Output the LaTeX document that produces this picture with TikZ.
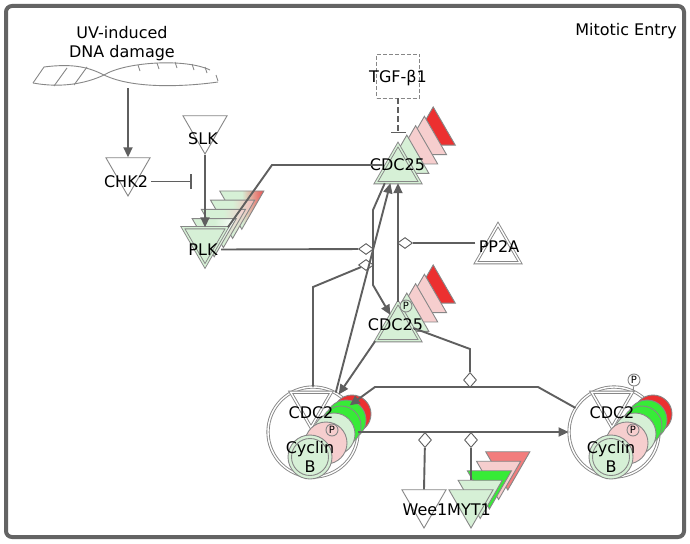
\documentclass[tikz,border=0pt]{standalone}
\usepackage{fontspec}
\setmainfont{DejaVu Sans}
\usetikzlibrary{shapes.geometric,arrows.meta}
\definecolor{linegray}{RGB}{95,95,95}
\definecolor{shapegray}{RGB}{135,135,135}
\definecolor{framegray}{RGB}{100,100,100}
\definecolor{lgreen}{RGB}{214,240,214}
\definecolor{bgreen}{RGB}{55,235,55}
\definecolor{lpink}{RGB}{246,206,206}
\definecolor{ipared}{RGB}{236,48,48}
\definecolor{salmon}{RGB}{242,125,125}

\begin{document}
\begin{tikzpicture}[x=1pt,y=-1pt,font=\fontsize{16}{19}\selectfont,
        link/.style={draw=linegray,line width=1.9pt},
        act/.style={link,-{Triangle[length=10pt,width=9pt]}},
        inhib/.style={link,-{Bar[width=15pt]}},
        upt/.style={regular polygon,regular polygon sides=3,minimum size=51pt,inner sep=0pt,draw=shapegray,line width=0.9pt},
        dnt/.style={upt,shape border rotate=180},
        dbl/.style={double=#1,double distance=1.4pt,fill=#1},
        ball/.style={circle,inner sep=0pt,draw=shapegray,line width=0.9pt},
        modi/.style={diamond,inner sep=0pt,minimum width=13pt,minimum height=15pt,draw=linegray,line width=0.9pt,fill=white},
        flat/.style={modi,minimum width=15pt,minimum height=11pt},
        pmark/.style={ball,fill=white,minimum size=12pt,font=\fontsize{10}{10}\selectfont},
        dnaline/.style={draw=shapegray,line width=0.9pt}]
        %外框
        \useasboundingbox (0,0) rectangle (690,543);
        \fill[white] (0,0) rectangle (690,543);
        \draw[framegray,line width=4pt,rounded corners=6pt] (6,6) rectangle (684,537);
        \node (title) at (626,31) {Mitotic Entry};
        %DNA损伤
        \draw[dnaline] (33,83) -- (44,67) .. controls (75,63) and (90,68) .. (104,75)
                .. controls (135,90) and (190,86) .. (218,82);
        \draw[dnaline] (33,83) .. controls (60,88) and (85,84) .. (104,75)
                .. controls (125,62) and (185,58) .. (210,70);
        \foreach \x/\y in {54/86,74/85}
                \draw[dnaline] (\x,\y) -- ++(13,-18);
        \foreach \x/\y in {138/65,157/63,175/62,192/64,205/67,216/75}
                \draw[dnaline] (\x,\y) -- ++(2,6);
        \coordinate (dna) at (128,88);
        \node[align=center] (uvt) at (122,44) {UV-induced\\DNA damage};
        %单个分子
        \node[dnt,fill=white] (chk) at (128,170.5) {};
        \node[dnt,fill=white] (slk) at (205,128.5) {};
        \node[dnt,fill=white] (wee) at (424,502.5) {};
        \node[upt,dbl=white] (pp) at (498,250) {};
        \node[draw=shapegray,dash pattern=on 4pt off 2pt,line width=0.9pt,minimum width=43pt,minimum height=44pt] (tgf) at (398,76) {};
        %PLK层叠
        \foreach \k/\c in {4/ipared!85,3/ipared!35,2/lpink,1/white}
                \node[dnt,left color=lgreen,right color=\c,middle color=lgreen,xshift=9.2*\k,yshift=9.2*\k] (plk\k) at (205,240.5) {};
        \node[dnt,dbl=lgreen] (plk) at (205,240.5) {};
        %CDC25层叠
        \foreach \y/\n in {170/A,328/B}
        {
                \foreach \k/\c in {4/ipared,3/lpink,2/lpink,1/lgreen}
                        \node[upt,fill=\c,xshift=8.8*\k,yshift=9.4*\k] (cdc\n\k) at (398,\y) {};
                \node[upt,dbl=lgreen] (cdc\n) at (398,\y) {};
        };
        \node[pmark,fill=lgreen] (pB) at (406,306) {P};
        %MYT1层叠
        \foreach \k/\c in {4/salmon,3/lpink,2/bgreen,1/lgreen}
                \node[dnt,fill=\c,xshift=9.2*\k,yshift=9.5*\k] (myt\k) at (471,502.5) {};
        \node[dnt,fill=lgreen] (myt) at (471,502.5) {};
        %CDC2/Cyclin B复合物
        \foreach \s/\n in {0/L,301/R}
        {
                \node[ball,minimum size=90pt,dbl=white,xshift=\s] (cplx\n) at (313,432) {};
                \node[dnt,dbl=white,minimum size=47pt,xshift=\s] (cdc2\n) at (311,404) {};
                \foreach \x/\y/\c/\r [count=\i] in {352/414/ipared/38,346/420/bgreen/40,341/426/bgreen/40,334/434/lgreen/42,326/443/lpink/42}
                        \node[ball,fill=\c,minimum size=\r,xshift=\s] (ring\n\i) at (\x,\y) {};
                \node[pmark,fill=lpink,xshift=\s] (p\n) at (332,430) {P};
                \node[ball,fill=lgreen,minimum size=44pt,xshift=\s] (cyc\n) at (310,457) {};
                \node[ball,minimum size=37pt,xshift=\s] (cycin\n) at (310,457) {};
                \node[xshift=\s] (cdc2t\n) at (311,413) {CDC2};
                \node[align=center,xshift=\s] (cyct\n) at (310,457) {Cyclin\\B};
        };
        \node[pmark] (pTop) at (634,380) {P};
        \draw[shapegray,line width=0.9pt] (pTop) -- (cdc2R.30);
        %调节点
        \node[flat] (dmPLK) at (366,249) {};
        \node[flat] (dmCDC2) at (366,265) {};
        \node[flat] (dmPP) at (405,243) {};
        \node[modi] (dmC25) at (470,380) {};
        \node[modi] (dmWee) at (425,440) {};
        \node[modi] (dmMyt) at (471,440) {};
        %文字
        \node (chkt) at (126,181.5) {CHK2};
        \node (slkt) at (203,139) {SLK};
        \node (plkt) at (203,249.5) {PLK};
        \node (tgft) at (398,78) {TGF-β1};
        \node (cdcAt) at (397.5,165) {CDC25};
        \node (cdcBt) at (395.5,324.5) {CDC25};
        \node (ppt) at (499,246.5) {PP2A};
        \node (weet) at (425,509.5) {Wee1};
        \node (mytt) at (469,509.5) {MYT1};
        %连线
        \coordinate (chkend) at (192,181.5);
        \coordinate (tgfend) at (398,133);
        \coordinate (plkbend) at (272,165);
        \draw[act] (dna) -- (chk);
        \draw[act] (slk.south) -- (plk);
        \draw[inhib] (chkt.east) -- (chkend);
        \draw[inhib,dash pattern=on 6pt off 3pt,line width=1.3pt] (tgf.south) -- (tgfend);
        \draw[link] (plk.30) -- (plkbend) -- (cdcA.west |- plkbend);
        \draw[link] (plkt.east) -- (dmPLK);
        \draw[act] (cdcA.225) -- (373,210) -- (373,285) -- (cdcB);
        \draw[link] (cplxL.north) -- (313,287) -- (dmCDC2);
        \draw[act] (cplxL.60) -- (cdcA.240);
        \draw[act] (cdcB.north) -- (cdcA.south);
        \draw[link] (ppt.west |- dmPP) -- (dmPP);
        \draw[act] (cdcB.210) -- (cplxL);
        \draw[link] (cdcB.east) -- (470,349) -- (dmC25);
        \draw[act] (cplxR.148) -- (538,387) -- (375,387) -- (cplxL);
        \draw[act] (cplxL.east) -- (cplxR.west);
        \draw[link] (wee.north) -- (dmWee);
        \draw[link] (myt.north |- myt1.north) -- (dmMyt);
\end{tikzpicture}
\end{document}
